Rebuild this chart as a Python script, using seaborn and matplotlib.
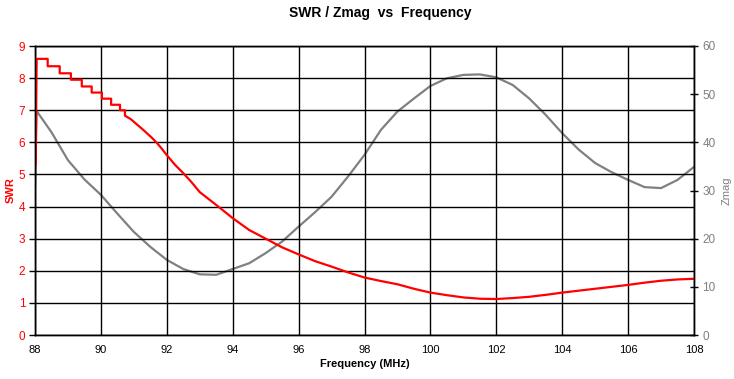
import matplotlib
matplotlib.use("Agg")
import matplotlib.pyplot as plt
import seaborn as sns
import pandas as pd


# SWR (early part is a staircase in the source)
swr_freq = [
    88.02, 88.05, 88.385, 88.385, 88.75, 88.75, 89.09, 89.09, 89.42, 89.42,
    89.72, 89.72, 90.03, 90.03, 90.31, 90.31, 90.58, 90.58, 90.73, 90.73,
    90.91, 91.1, 91.25, 91.4, 91.55, 91.7, 91.85, 92.0, 92.25, 92.5, 92.75,
    93.0, 93.5, 94.0, 94.5, 95.0, 95.5, 96.0, 96.5, 97.0, 97.5, 98.0, 98.5,
    99.0, 99.5, 100.0, 100.5, 101.0, 101.5, 102.0, 102.5, 103.0, 103.5,
    104.0, 104.5, 105.0, 105.5, 106.0, 106.5, 107.0, 107.5, 108.0,
]
swr = [
    5.3, 8.6, 8.6, 8.37, 8.37, 8.15, 8.15, 7.95, 7.95, 7.74,
    7.74, 7.55, 7.55, 7.36, 7.36, 7.17, 7.17, 7.0, 7.0, 6.83,
    6.72, 6.55, 6.42, 6.28, 6.14, 5.98, 5.8, 5.6, 5.3, 5.04, 4.76,
    4.45, 4.05, 3.64, 3.27, 3.0, 2.73, 2.51, 2.3, 2.13, 1.95, 1.79, 1.68,
    1.58, 1.44, 1.32, 1.24, 1.17, 1.13, 1.12, 1.15, 1.19, 1.25,
    1.32, 1.38, 1.44, 1.5, 1.56, 1.63, 1.69, 1.73, 1.75,
]

# Zmag
zmag_freq = [
    88.0, 88.05, 88.5, 89.0, 89.5, 90.0, 90.5, 91.0, 91.5, 92.0, 92.5,
    93.0, 93.5, 94.0, 94.5, 95.0, 95.5, 96.0, 96.5, 97.0, 97.5, 98.0,
    98.5, 99.0, 99.5, 100.0, 100.5, 101.0, 101.5, 102.0, 102.5, 103.0,
    103.5, 104.0, 104.5, 105.0, 105.5, 106.0, 106.5, 107.0, 107.5, 108.0,
]
zmag = [
    30.5, 46.5, 42.1, 36.3, 32.3, 29.1, 25.2, 21.4, 18.3, 15.6, 13.7,
    12.6, 12.5, 13.7, 14.9, 17.0, 19.4, 22.5, 25.5, 28.7, 32.9, 37.4,
    42.6, 46.4, 49.1, 51.7, 53.3, 54.0, 54.1, 53.5, 51.9, 49.1,
    45.7, 41.9, 38.5, 35.7, 33.8, 32.2, 30.7, 30.5, 32.2, 34.9,
]

x_ticks = list(range(88, 109, 2))
swr_ticks = list(range(0, 10))
zmag_ticks = list(range(0, 61, 10))

RED = "#ff0000"
GREY = "#808080"
FONT = ["Liberation Sans", "DejaVu Sans"]

sns.set_style("white")
plt.rcParams["font.family"] = FONT
plt.rcParams["text.color"] = "black"
plt.rcParams["axes.labelcolor"] = "black"

swr_df = pd.DataFrame({"freq": swr_freq, "swr": swr})
zmag_df = pd.DataFrame({"freq": zmag_freq, "zmag": zmag})

fig = plt.figure(figsize=(7.34, 3.79), dpi=100)
ax = fig.add_axes([35 / 734, 44 / 379, 659 / 734, 289 / 379])
ax2 = ax.twinx()

sns.lineplot(data=zmag_df, x="freq", y="zmag", ax=ax2, color=GREY,
             linewidth=1.6, estimator=None, sort=False)
sns.lineplot(data=swr_df, x="freq", y="swr", ax=ax, color=RED,
             linewidth=1.6, estimator=None, sort=False)

# red curve drawn above the grey one
ax.set_zorder(ax2.get_zorder() + 1)
ax.patch.set_visible(False)

ax.set_xlim(88, 108)
ax.set_ylim(0, 9)
ax2.set_ylim(0, 60)
ax.set_xticks(x_ticks)
ax.set_yticks(swr_ticks)
ax2.set_yticks(zmag_ticks)

ax.grid(True, color="black", linewidth=1.0)
for spine in ax.spines.values():
    spine.set_color("black")
    spine.set_linewidth(1.0)
for spine in ax2.spines.values():
    spine.set_color("black")
    spine.set_linewidth(1.0)

ax.tick_params(axis="x", direction="out", length=4, width=1, colors="black",
               labelsize=8, pad=3)
ax.tick_params(axis="y", direction="out", length=4, width=1, color="black",
               labelcolor=RED, labelsize=8.5, pad=3)
ax2.tick_params(axis="y", direction="inout", length=6, width=1, color="black",
                labelcolor=GREY, labelsize=8.5, pad=3)

ax.set_xlabel("Frequency (MHz)", fontsize=8, fontweight="bold", labelpad=3)
ax.set_ylabel("SWR", fontsize=8, fontweight="bold", color=RED, labelpad=2)
ax2.set_ylabel("Zmag", fontsize=8, color=GREY, rotation=90, labelpad=4)

fig.suptitle("SWR / Zmag  vs  Frequency", x=380 / 734, y=1 - 6 / 379,
             fontsize=10, fontweight="bold", va="top", color="black")

fig.savefig("out.png", dpi=100)
